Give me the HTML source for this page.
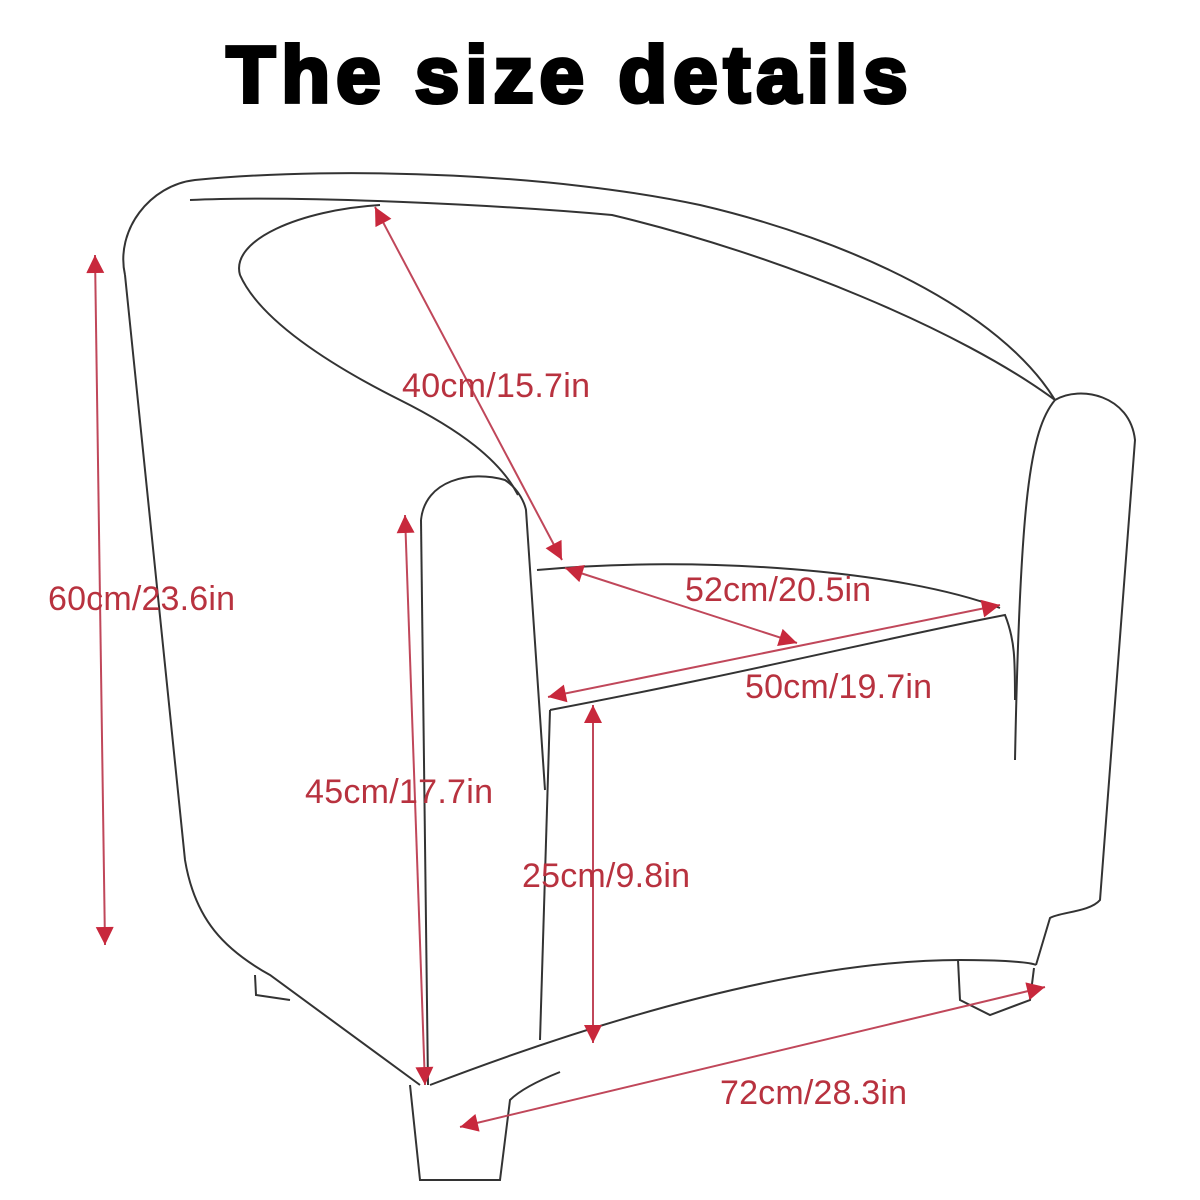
<!DOCTYPE html>
<html><head><meta charset="utf-8"><style>
html,body{margin:0;padding:0;background:#fff;}
svg{display:block;}
.o{fill:none;stroke:#333;stroke-width:2;}
.r{stroke:#c0475a;stroke-width:2;fill:none;}
.t{font-family:"Liberation Sans",sans-serif;font-size:34px;fill:#b8323f;}
</style></head><body>
<svg width="1200" height="1200" viewBox="0 0 1200 1200">
<defs>
<marker id="ah" viewBox="0 0 10 10" refX="10" refY="5" markerWidth="20" markerHeight="18" orient="auto-start-reverse" markerUnits="userSpaceOnUse">
<path d="M0,0 L10,5 L0,10 z" fill="#c8283c"/>
</marker>
</defs>
<text x="570" y="102" text-anchor="middle" font-family="'Liberation Sans',sans-serif" font-weight="900" font-size="80" letter-spacing="6" fill="#000" stroke="#000" stroke-width="4">The size details</text>
<g>
<path class="o" d="M125,275 C115,230 150,185 195,180 C350,165 560,175 700,205 C850,240 1000,310 1055,400"/>
<path class="o" d="M190,200 C300,195 500,205 612,215 C780,255 960,330 1055,400"/>
<path class="o" d="M240,275 C230,240 300,210 380,205 M240,275 C260,320 330,365 400,400 C460,430 500,460 518,495"/>
<path class="o" d="M421,520 C425,480 470,470 505,480 C520,490 525,505 526,510 L545,790"/>
<path class="o" d="M421,520 L428,1085"/>
<path class="o" d="M125,275 L185,860 C195,920 225,950 270,975 L420,1085"/>
<path class="o" d="M255,975 L256,995 L290,1000"/>
<path class="o" d="M1055,400 C1080,385 1130,395 1135,440 L1100,900 C1090,912 1060,912 1050,918 L1036,965"/>
<path class="o" d="M1055,400 C1030,430 1020,500 1015,760"/>
<path class="o" d="M537,570 C700,555 900,570 1000,608"/>
<path class="o" d="M550,710 C750,672 900,635 1005,615 C1015,640 1015,660 1015,700"/>
<path class="o" d="M550,710 L540,1040"/>
<path class="o" d="M430,1085 C600,1020 800,960 960,960 C1000,960 1030,962 1036,965"/>
<path class="o" d="M410,1085 L420,1180 L500,1180 L510,1100 C520,1090 540,1080 560,1072"/>
<path class="o" d="M958,960 L960,1000 L990,1015 L1030,1000 L1034,968"/>
</g>
<g>
<line class="r" x1="95" y1="255" x2="105" y2="945" marker-start="url(#ah)" marker-end="url(#ah)"/>
<line class="r" x1="375" y1="207" x2="562" y2="560" marker-start="url(#ah)" marker-end="url(#ah)"/>
<line class="r" x1="565" y1="568" x2="797" y2="643" marker-start="url(#ah)" marker-end="url(#ah)"/>
<line class="r" x1="548" y1="697" x2="1000" y2="605" marker-start="url(#ah)" marker-end="url(#ah)"/>
<line class="r" x1="405" y1="515" x2="425" y2="1085" marker-start="url(#ah)" marker-end="url(#ah)"/>
<line class="r" x1="593" y1="705" x2="593" y2="1043" marker-start="url(#ah)" marker-end="url(#ah)"/>
<line class="r" x1="460" y1="1127" x2="1045" y2="987" marker-start="url(#ah)" marker-end="url(#ah)"/>
</g>
<g>
<text class="t" x="48" y="610" textLength="187">60cm/23.6in</text>
<text class="t" x="402" y="397" textLength="188">40cm/15.7in</text>
<text class="t" x="685" y="601" textLength="186">52cm/20.5in</text>
<text class="t" x="745" y="698" textLength="187">50cm/19.7in</text>
<text class="t" x="305" y="803" textLength="188">45cm/17.7in</text>
<text class="t" x="522" y="887" textLength="168">25cm/9.8in</text>
<text class="t" x="720" y="1104" textLength="187">72cm/28.3in</text>
</g>
</svg>
</body></html>
